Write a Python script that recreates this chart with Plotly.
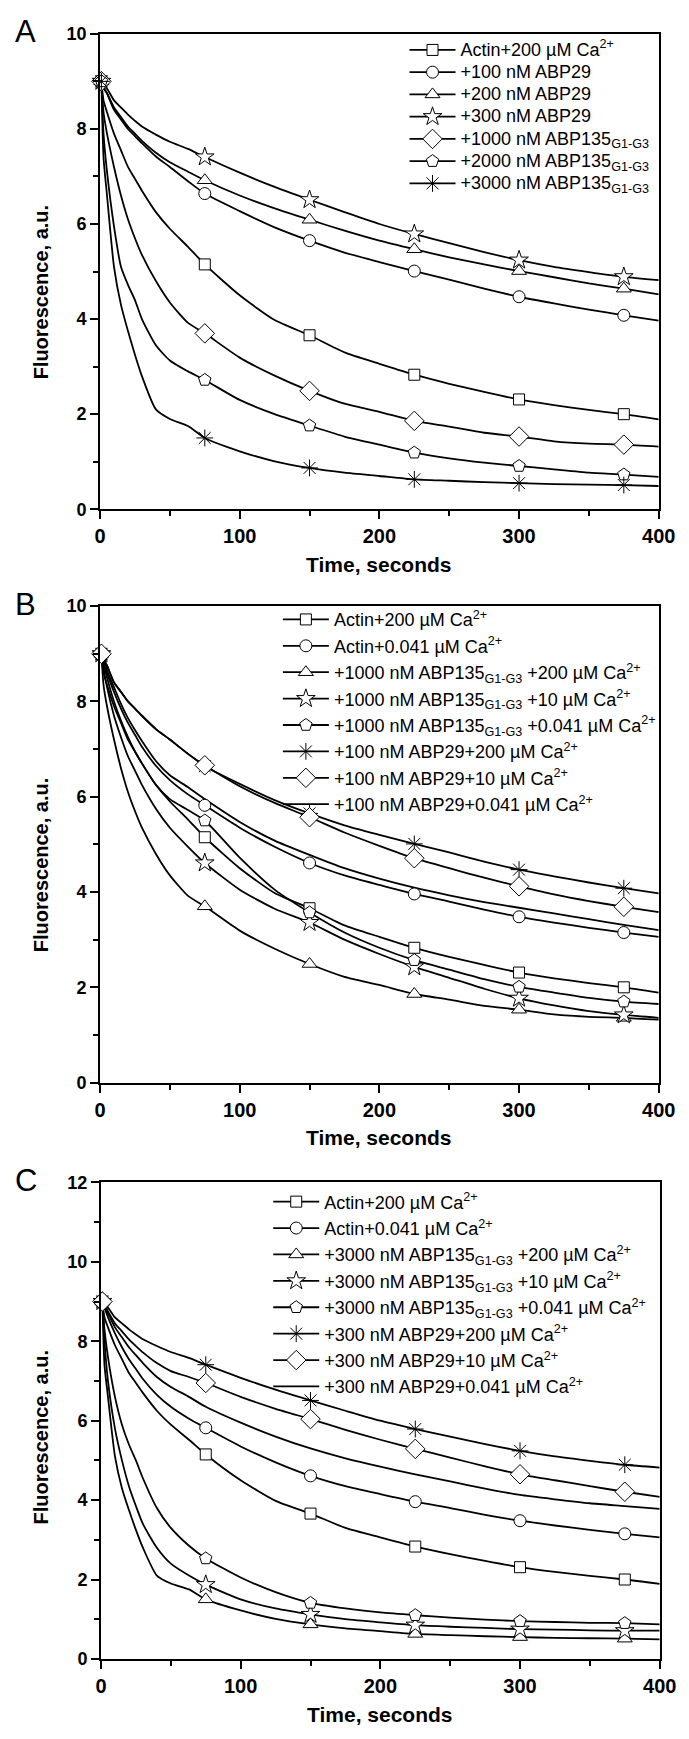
import plotly.graph_objects as go

FONT = "Liberation Sans, Arial, sans-serif"
W, H = 689, 1739

# time grid (s) and where the symbols sit
T = [1, 2.5, 5, 10, 15, 20, 25, 30, 40, 50, 63, 75, 100, 125, 150, 175, 200,
     225, 250, 275, 300, 325, 350, 375, 400]
MARKER_T = [1, 75, 150, 225, 300, 375]

# curves shared between panels
ACTIN_200 = [9.0, 8.6, 8.35, 7.9, 7.55, 7.2, 6.95, 6.7, 6.25, 5.9, 5.52, 5.15, 4.5,
             3.98, 3.66, 3.3, 3.06, 2.83, 2.64, 2.47, 2.31, 2.19, 2.09, 2.0, 1.89]
ACTIN_0041 = [9.0, 8.85, 8.6, 8.2, 7.85, 7.55, 7.3, 7.05, 6.65, 6.35, 6.05, 5.82, 5.35,
              4.95, 4.61, 4.35, 4.15, 3.96, 3.8, 3.63, 3.48, 3.36, 3.25, 3.15, 3.06]
ABP29_100 = [9.0, 8.87, 8.75, 8.4, 8.2, 8.0, 7.85, 7.7, 7.42, 7.2, 6.9, 6.64, 6.27,
             5.93, 5.65, 5.4, 5.2, 5.01, 4.83, 4.64, 4.47, 4.33, 4.2, 4.08, 3.97]
ABP29_200 = [9.0, 8.87, 8.75, 8.45, 8.25, 8.05, 7.9, 7.75, 7.5, 7.3, 7.1, 6.92, 6.6,
             6.33, 6.09, 5.86, 5.65, 5.47, 5.3, 5.15, 5.01, 4.88, 4.75, 4.64, 4.52]
ABP29_300 = [9.0, 8.93, 8.85, 8.6, 8.45, 8.3, 8.17, 8.05, 7.88, 7.73, 7.58, 7.41, 7.08,
             6.78, 6.51, 6.25, 6.0, 5.79, 5.6, 5.41, 5.24, 5.1, 4.99, 4.89, 4.82]
ABP135_1000 = [9.0, 8.35, 7.9, 7.2, 6.6, 6.1, 5.7, 5.35, 4.8, 4.35, 3.92, 3.7, 3.19,
               2.81, 2.49, 2.22, 2.05, 1.86, 1.74, 1.61, 1.53, 1.43, 1.38, 1.36, 1.32]
ABP135_2000 = [9.0, 7.9, 7.1, 5.95, 5.1, 4.72, 4.4, 4.0, 3.45, 3.13, 2.9, 2.72, 2.3,
               2.0, 1.76, 1.53, 1.36, 1.19, 1.07, 0.98, 0.91, 0.84, 0.77, 0.73, 0.68]
ABP135_3000 = [9.0, 7.4, 6.6, 5.1, 4.3, 3.75, 3.25, 2.8, 2.1, 1.9, 1.75, 1.5, 1.22,
               1.01, 0.87, 0.77, 0.7, 0.63, 0.6, 0.57, 0.55, 0.53, 0.52, 0.51, 0.49]

# panel B only
B_ABP135_CA10 = [9.0, 8.7, 8.3, 7.7, 7.25, 6.85, 6.55, 6.25, 5.75, 5.35, 4.95, 4.61, 4.05,
                 3.65, 3.36, 3.0, 2.7, 2.43, 2.2, 1.97, 1.77, 1.62, 1.5, 1.42, 1.36]
B_ABP135_CA0041 = [9.0, 8.8, 8.5, 8.0, 7.6, 7.25, 6.95, 6.7, 6.25, 5.95, 5.72, 5.5, 4.72,
                   4.05, 3.57, 3.15, 2.83, 2.57, 2.37, 2.17, 2.01, 1.89, 1.78, 1.7, 1.65]
B_ABP29_CA10 = [9.0, 8.9, 8.75, 8.4, 8.2, 8.0, 7.85, 7.7, 7.42, 7.2, 6.9, 6.66, 6.22,
                5.87, 5.57, 5.25, 4.97, 4.71, 4.5, 4.3, 4.12, 3.95, 3.81, 3.69, 3.58]
B_ABP29_CA0041 = [9.0, 8.88, 8.65, 8.3, 7.95, 7.65, 7.4, 7.17, 6.75, 6.45, 6.2, 5.95, 5.47,
                  5.08, 4.78, 4.5, 4.28, 4.09, 3.93, 3.79, 3.67, 3.55, 3.43, 3.31, 3.2]

# panel C only
C_ABP135_CA10 = [9.0, 8.0, 7.0, 5.8, 5.0, 4.35, 3.85, 3.4, 2.8, 2.4, 2.1, 1.87, 1.5,
                 1.27, 1.12, 1.0, 0.92, 0.85, 0.81, 0.78, 0.75, 0.74, 0.72, 0.71, 0.71]
C_ABP135_CA0041 = [9.0, 8.3, 7.6, 6.6, 5.9, 5.4, 5.0, 4.55, 3.8, 3.3, 2.85, 2.53, 2.05,
                   1.68, 1.41, 1.27, 1.17, 1.1, 1.04, 0.99, 0.95, 0.93, 0.91, 0.9, 0.87]
C_ABP29_CA10 = [9.0, 8.9, 8.75, 8.45, 8.25, 8.05, 7.88, 7.72, 7.45, 7.25, 7.1, 6.95, 6.6,
                6.3, 6.04, 5.77, 5.52, 5.29, 5.07, 4.85, 4.65, 4.5, 4.35, 4.21, 4.08]
C_ABP29_CA0041 = [9.0, 8.88, 8.7, 8.35, 8.1, 7.85, 7.65, 7.45, 7.1, 6.85, 6.6, 6.35, 5.95,
                  5.6, 5.3, 5.05, 4.84, 4.65, 4.47, 4.29, 4.13, 4.02, 3.92, 3.85, 3.78]

CA = " µM Ca<sup>2+</sup>"
SUB = "<sub>G1-G3</sub>"

PANEL_A = [
    ("Actin+200" + CA, "square", 11, ACTIN_200),
    ("+100 nM ABP29", "circle", 12, ABP29_100),
    ("+200 nM ABP29", "triangle-up", 13, ABP29_200),
    ("+300 nM ABP29", "star", 14, ABP29_300),
    ("+1000 nM ABP135" + SUB, "diamond", 15, ABP135_1000),
    ("+2000 nM ABP135" + SUB, "pentagon", 13, ABP135_2000),
    ("+3000 nM ABP135" + SUB, "asterisk-open", 14, ABP135_3000),
]
PANEL_B = [
    ("Actin+200" + CA, "square", 11, ACTIN_200),
    ("Actin+0.041" + CA, "circle", 12, ACTIN_0041),
    ("+1000 nM ABP135" + SUB + " +200" + CA, "triangle-up", 13, ABP135_1000),
    ("+1000 nM ABP135" + SUB + " +10" + CA, "star", 14, B_ABP135_CA10),
    ("+1000 nM ABP135" + SUB + " +0.041" + CA, "pentagon", 13, B_ABP135_CA0041),
    ("+100 nM ABP29+200" + CA, "asterisk-open", 14, ABP29_100),
    ("+100 nM ABP29+10" + CA, "diamond", 15, B_ABP29_CA10),
    ("+100 nM ABP29+0.041" + CA, None, 0, B_ABP29_CA0041),
]
PANEL_C = [
    ("Actin+200" + CA, "square", 11, ACTIN_200),
    ("Actin+0.041" + CA, "circle", 12, ACTIN_0041),
    ("+3000 nM ABP135" + SUB + " +200" + CA, "triangle-up", 13, ABP135_3000),
    ("+3000 nM ABP135" + SUB + " +10" + CA, "star", 14, C_ABP135_CA10),
    ("+3000 nM ABP135" + SUB + " +0.041" + CA, "pentagon", 13, C_ABP135_CA0041),
    ("+300 nM ABP29+200" + CA, "asterisk-open", 14, ABP29_300),
    ("+300 nM ABP29+10" + CA, "diamond", 15, C_ABP29_CA10),
    ("+300 nM ABP29+0.041" + CA, None, 0, C_ABP29_CA0041),
]

# pixel boxes of the three plot frames: left, right, top, bottom
BOXES = [(89, 667, 16, 497), (89, 667, 595, 1077), (90, 668, 1178, 1660)]
YMAX = [10, 10, 12]
LEGENDS = [  # text start x, legend top y, font size used for row spacing
    (460, 16, 14.8), (329, 590, 18), (319, 1179, 18)]
ITEMW = 46


def px(x):
    return x / W


def py(y):
    return 1 - y / H


def marker_style(sym, size):
    # open symbols take their stroke colour from marker.color
    if sym.endswith("-open"):
        return dict(symbol=sym, size=size, color="black", line=dict(color="black", width=1))
    return dict(symbol=sym, size=size, color="white", line=dict(color="black", width=1))


fig = go.Figure()

for i, series in enumerate([PANEL_A, PANEL_B, PANEL_C]):
    ax = "" if i == 0 else str(i + 1)
    leg = "legend" if i == 0 else f"legend{i + 1}"
    # lines first
    for name, sym, size, vals in series:
        fig.add_trace(go.Scatter(
            x=T, y=vals, mode="lines", xaxis="x" + ax, yaxis="y" + ax,
            line=dict(color="black", width=1.8, shape="spline", smoothing=0.6),
            showlegend=False, hoverinfo="skip"))
    # symbols on top
    for name, sym, size, vals in series:
        if sym is None:
            continue
        mx = [t for t in T if t in MARKER_T]
        my = [v for t, v in zip(T, vals) if t in MARKER_T]
        fig.add_trace(go.Scatter(
            x=mx, y=my, mode="markers", xaxis="x" + ax, yaxis="y" + ax,
            marker=marker_style(sym, size),
            cliponaxis=False, showlegend=False, hoverinfo="skip"))
    # legend entries
    for name, sym, size, vals in series:
        label = f'<span style="font-size:18px">{name}</span>'
        fig.add_trace(go.Scatter(
            x=[None], y=[None], xaxis="x" + ax, yaxis="y" + ax,
            mode="lines" if sym is None else "lines+markers",
            name=label, legend=leg,
            line=dict(color="black", width=1.8),
            marker=marker_style(sym or "circle", size)))

axis_common = dict(
    showline=True, linecolor="black", linewidth=2, mirror=True,
    ticks="outside", ticklen=8, tickwidth=2, tickcolor="black",
    showgrid=False, zeroline=False,
)

layout = dict(
    width=W, height=H, margin=dict(l=0, r=0, t=0, b=0),
    paper_bgcolor="white", plot_bgcolor="white",
    font=dict(family=FONT, color="black"),
    annotations=[],
)

for i, (l, r, t, b) in enumerate(BOXES):
    ax = "" if i == 0 else str(i + 1)
    layout["xaxis" + ax] = dict(
        axis_common, domain=[px(l), px(r)], range=[0, 400], dtick=100,
        anchor="y" + ax,
        tickfont=dict(family=FONT, size=20, color="black", weight="bold"),
        minor=dict(ticks="outside", ticklen=5, tickwidth=1.5, tickcolor="black", dtick=50))
    layout["yaxis" + ax] = dict(
        axis_common, domain=[py(b), py(t)], range=[0, YMAX[i]], dtick=2,
        anchor="x" + ax,
        tickfont=dict(family=FONT, size=18, color="black", weight="bold"),
        minor=dict(ticks="outside", ticklen=5, tickwidth=1.5, tickcolor="black", dtick=1))

    tx, ty, fs = LEGENDS[i]
    layout["legend" if i == 0 else f"legend{i + 1}"] = dict(
        x=px(tx - ITEMW - 10), y=py(ty), xanchor="left", yanchor="top",
        bgcolor="rgba(0,0,0,0)", borderwidth=0, tracegroupgap=0,
        itemwidth=ITEMW,
        font=dict(family=FONT, size=fs, color="black"))

    layout["annotations"] += [
        dict(text="ABC"[i], x=px(12), y=py(t - 2), xref="paper", yref="paper",
             showarrow=False, xanchor="center", yanchor="middle",
             font=dict(family=FONT, size=31, color="black")),
        dict(text="Time, seconds", x=px((l + r) / 2), y=py(b + 56),
             xref="paper", yref="paper", showarrow=False,
             xanchor="center", yanchor="middle",
             font=dict(family=FONT, size=21, color="black", weight="bold")),
        dict(text="Fluorescence, a.u.", x=px(28), y=py((t + b) / 2 + (21 if i < 2 else 17)),
             xref="paper", yref="paper", showarrow=False, textangle=-90,
             xanchor="center", yanchor="middle",
             font=dict(family=FONT, size=20, color="black", weight="bold")),
    ]

fig.update_layout(**layout)
fig.write_html("out.html")
